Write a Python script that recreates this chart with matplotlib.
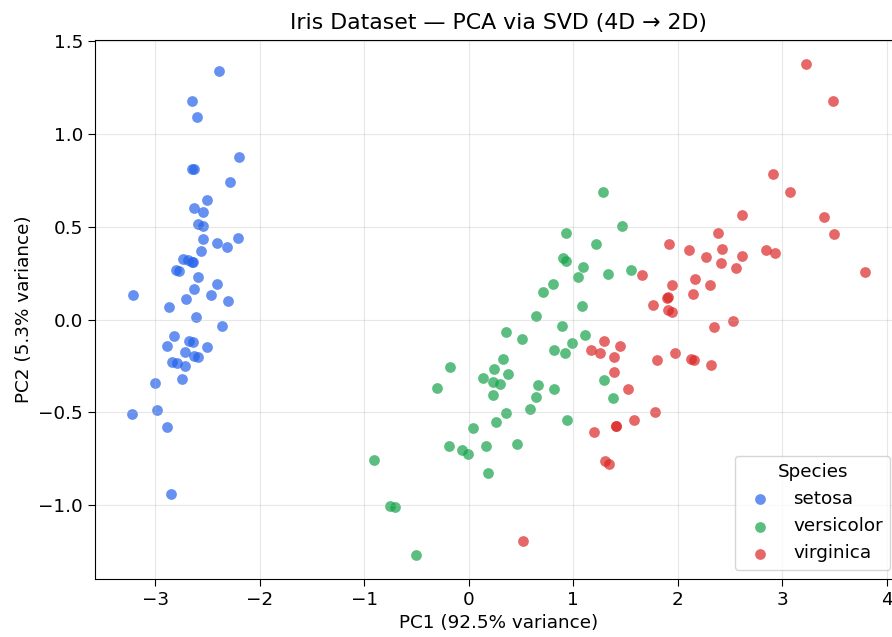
import numpy as np
import matplotlib.pyplot as plt

species = ['setosa', 'versicolor', 'virginica']
colors = ['#2563eb', '#16a34a', '#dc2626']

setosa_pc1 = [-2.684, -2.714, -2.889, -2.745, -2.729, -2.281, -2.821, -2.626, -2.886, -2.673,
              -2.507, -2.613, -2.786, -3.224, -2.645, -2.386, -2.624, -2.648, -2.200, -2.588,
              -2.310, -2.544, -3.216, -2.303, -2.356, -2.507, -2.469, -2.562, -2.640, -2.632,
              -2.587, -2.410, -2.649, -2.599, -2.637, -2.866, -2.625, -2.801, -2.981, -2.590,
              -2.770, -2.849, -2.997, -2.406, -2.209, -2.714, -2.538, -2.839, -2.543, -2.703]
setosa_pc2 = [0.319, -0.177, -0.145, -0.318, 0.327, 0.741, -0.089, 0.163, -0.578, -0.114,
              0.645, 0.015, -0.235, -0.511, 1.179, 1.338, 0.811, 0.312, 0.873, 0.514,
              0.391, 0.433, 0.133, 0.099, -0.037, -0.146, 0.131, 0.368, 0.312, -0.197,
              -0.204, 0.411, 0.813, 1.093, -0.121, 0.069, 0.599, 0.269, -0.488, 0.229,
              0.264, -0.941, -0.342, 0.189, 0.437, -0.250, 0.504, -0.228, 0.579, 0.108]

versicolor_pc1 = [1.285, 0.932, 1.464, 0.183, 1.088, 0.642, 1.095, -0.749, 1.044, -0.009,
                  -0.508, 0.512, 0.265, 0.985, -0.174, 0.928, 0.660, 0.236, 0.945, 0.045,
                  1.116, 0.358, 1.298, 0.922, 0.715, 0.900, 1.332, 1.558, 0.813, -0.306,
                  -0.068, -0.190, 0.136, 1.380, 0.588, 0.807, 1.221, 0.815, 0.246, 0.166,
                  0.465, 0.891, 0.231, -0.705, 0.357, 0.332, 0.376, 0.643, -0.906, 0.299]
versicolor_pc2 = [0.685, 0.318, 0.504, -0.828, 0.075, -0.418, 0.283, -1.005, 0.228, -0.723,
                  -1.266, -0.104, -0.550, -0.125, -0.255, 0.467, -0.353, -0.334, -0.543, -0.584,
                  -0.085, -0.069, -0.328, -0.183, 0.149, 0.329, 0.244, 0.267, -0.163, -0.368,
                  -0.705, -0.680, -0.314, -0.421, -0.484, 0.194, 0.408, -0.372, -0.269, -0.682,
                  -0.671, -0.034, -0.404, -1.012, -0.505, -0.213, -0.293, 0.018, -0.756, -0.349]

virginica_pc1 = [2.531, 1.415, 2.617, 1.972, 2.350, 3.397, 0.521, 2.933, 2.321, 2.917,
                 1.662, 1.803, 2.166, 1.346, 1.586, 1.904, 1.950, 3.487, 3.796, 1.301,
                 2.428, 1.199, 3.500, 1.389, 2.275, 2.614, 1.259, 1.291, 2.124, 2.388,
                 2.842, 3.231, 2.159, 1.444, 1.781, 3.076, 2.144, 1.905, 1.169, 2.108,
                 2.314, 1.922, 1.415, 2.563, 2.419, 1.944, 1.527, 1.764, 1.901, 1.390]
virginica_pc2 = [-0.010, -0.575, 0.344, -0.180, -0.040, 0.551, -1.193, 0.356, -0.244, 0.783,
                 0.242, -0.216, 0.216, -0.777, -0.540, 0.119, 0.042, 1.176, 0.257, -0.761,
                 0.378, -0.606, 0.461, -0.204, 0.335, 0.561, -0.180, -0.117, -0.210, 0.465,
                 0.375, 1.374, -0.217, -0.143, -0.500, 0.688, 0.140, 0.049, -0.165, 0.372,
                 0.184, 0.409, -0.575, 0.278, 0.305, 0.188, -0.375, 0.079, 0.117, -0.283]

pc1 = [setosa_pc1, versicolor_pc1, virginica_pc1]
pc2 = [setosa_pc2, versicolor_pc2, virginica_pc2]

fig = plt.figure(figsize=(8.92, 6.37), dpi=100)
ax = fig.add_axes([95 / 892, 1 - 579 / 637, (902 - 95) / 892, (579 - 40) / 637])

for name, c, x, y in zip(species, colors, pc1, pc2):
    ax.scatter(x, y, s=60, color=c, alpha=0.7, linewidths=0, label=name)

ax.set_title('Iris Dataset — PCA via SVD (4D → 2D)', fontsize=15.8, pad=8)
ax.set_xlabel('PC1 (92.5% variance)', fontsize=13.2)
ax.set_ylabel('PC2 (5.3% variance)', fontsize=13.2)
ax.tick_params(labelsize=13.2, length=5)
ax.grid(True, alpha=0.3)
ax.legend(title='Species', loc='lower right', fontsize=13.2, title_fontsize=13.2,
          bbox_to_anchor=(0.997, 0.0))

fig.savefig('out.png', dpi=100)
